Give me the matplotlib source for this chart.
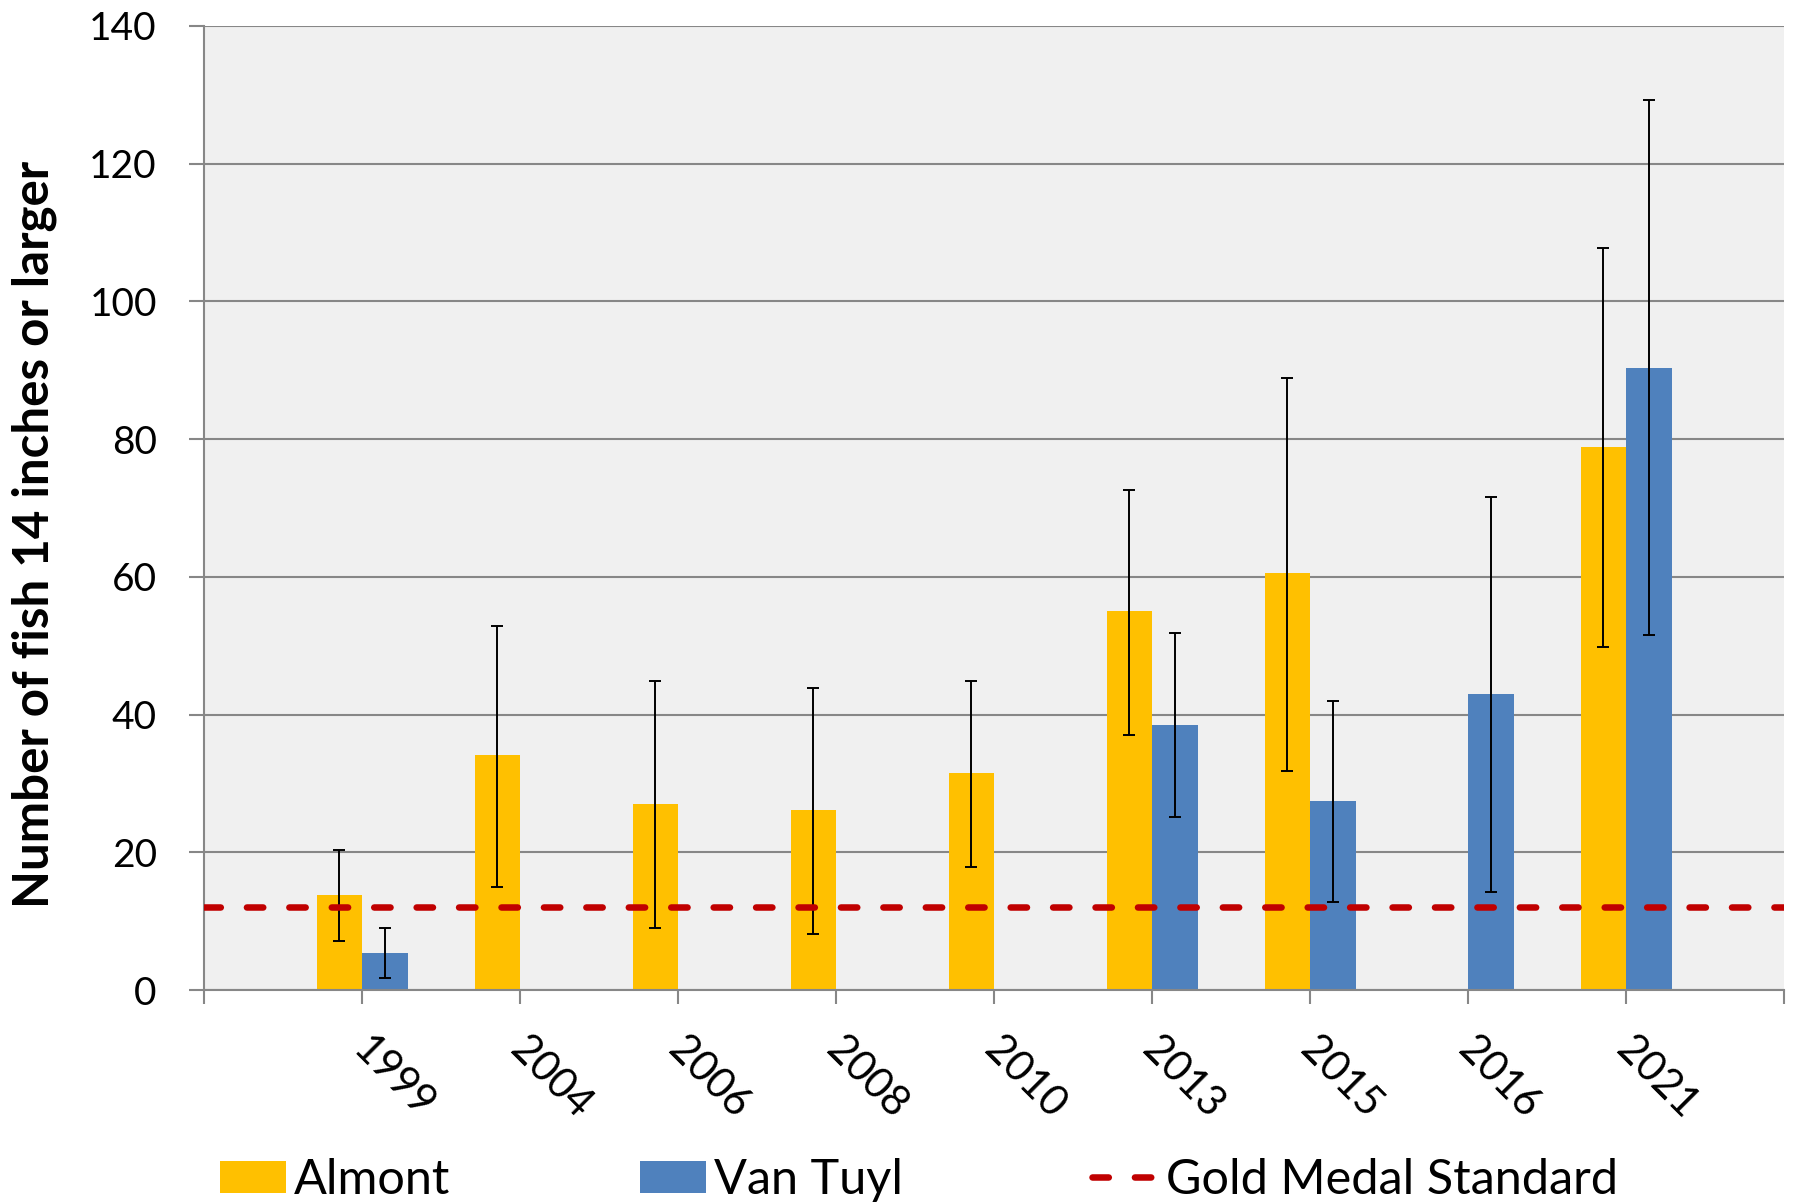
import numpy as np
import matplotlib
matplotlib.use('Agg')
import matplotlib.pyplot as plt
from matplotlib.transforms import ScaledTranslation

# data
years = ['1999', '2004', '2006', '2008', '2010', '2013', '2015', '2016', '2021']
almont = [13.8, 34.1, 27.0, 26.2, 31.5, 55.1, 60.5, np.nan, 78.8]
almont_lo = [7.1, 15.0, 9.0, 8.1, 17.9, 37.1, 31.8, np.nan, 49.8]
almont_hi = [20.4, 52.9, 44.9, 43.9, 44.9, 72.6, 88.9, np.nan, 107.8]
vantuyl = [5.4, np.nan, np.nan, np.nan, np.nan, 38.5, 27.4, 43.0, 90.4]
vantuyl_lo = [1.8, np.nan, np.nan, np.nan, np.nan, 25.2, 12.8, 14.3, 51.6]
vantuyl_hi = [9.0, np.nan, np.nan, np.nan, np.nan, 51.9, 42.0, 71.6, 129.2]
gold_standard = 12

plt.rcParams['font.family'] = ['Lato', 'DejaVu Sans']

GRID = '#878787'
YELLOW = '#FFC000'
BLUE = '#4F81BD'
RED = '#C00000'

fig = plt.figure(figsize=(17.93, 12.03), dpi=100)
ax = fig.add_axes([0.1138, 0.177, 0.995 - 0.1138, 0.9784 - 0.177])
ax.set_facecolor('#F0F0F0')

x = np.arange(len(years))
w = 0.288


def draw_series(vals, lo, hi, offset, color, label):
    vals = np.array(vals, dtype=float)
    lo = np.array(lo, dtype=float)
    hi = np.array(hi, dtype=float)
    ok = ~np.isnan(vals)
    xs = x[ok] + offset
    ax.bar(xs, vals[ok], width=w, color=color, label=label, zorder=2)
    ax.errorbar(xs, vals[ok], yerr=[vals[ok] - lo[ok], hi[ok] - vals[ok]],
                fmt='none', ecolor='black', elinewidth=1.4, capsize=4,
                capthick=1.4, zorder=3)


draw_series(almont, almont_lo, almont_hi, -w / 2, YELLOW, 'Almont')
draw_series(vantuyl, vantuyl_lo, vantuyl_hi, w / 2, BLUE, 'Van Tuyl')

ax.axhline(gold_standard, color=RED, lw=4.7, dashes=(2.5, 4.0),
           dash_capstyle='round', label='Gold Medal Standard', zorder=4)

ax.set_xlim(-1, len(years))
ax.set_ylim(0, 140)
ax.set_yticks(np.arange(0, 141, 20))
ax.yaxis.grid(True, color=GRID, lw=1.5)
ax.set_axisbelow(True)

ax.set_xticks(np.arange(-1, len(years) + 1))
ax.set_xticklabels([''] + years + [''], fontsize=30, rotation=-45,
                   ha='center', va='center', rotation_mode='anchor')
ax.tick_params(axis='x', length=10, width=1.5, color=GRID, pad=53)
ax.tick_params(axis='y', length=11, width=1.5, color=GRID, pad=23,
               labelsize=28)
offset = ScaledTranslation(0.31, 0, fig.dpi_scale_trans)
for lab in ax.get_xticklabels():
    lab.set_transform(lab.get_transform() + offset)

for side in ['top', 'right']:
    ax.spines[side].set_visible(False)
for side in ['left', 'bottom']:
    ax.spines[side].set_color(GRID)
    ax.spines[side].set_linewidth(1.5)

fig.text(0.019, 1 - 534 / 1203, 'Number of fish 14 inches or larger',
         rotation=90, fontsize=35.5, fontweight='bold', ha='center', va='center')

handles, labels = ax.get_legend_handles_labels()
order = [labels.index(n) for n in ['Almont', 'Van Tuyl', 'Gold Medal Standard']]
fig.legend([handles[i] for i in order], [labels[i] for i in order],
           loc='center left', bbox_to_anchor=(220 / 1793, 1 - 1180 / 1203),
           ncol=3, frameon=False, fontsize=35, borderpad=0, borderaxespad=0,
           handlelength=1.36, handleheight=0.64, handletextpad=0.16,
           columnspacing=3.9)

fig.savefig('out.png', dpi=100)
